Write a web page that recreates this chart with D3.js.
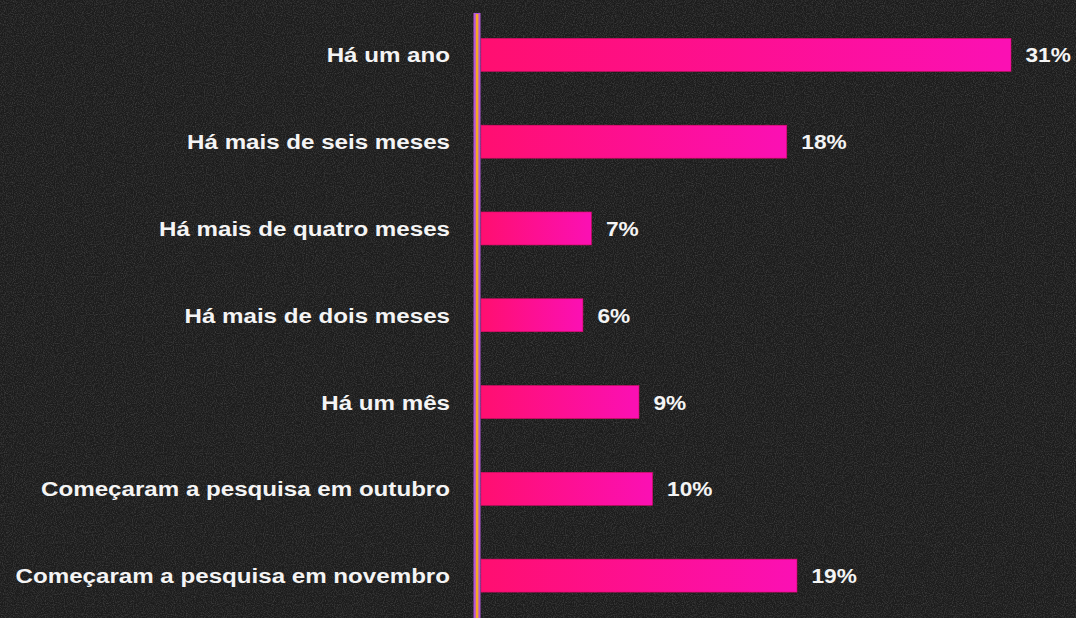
<!DOCTYPE html>
<html>
<head>
<meta charset="utf-8">
<script src="https://cdn.jsdelivr.net/npm/d3@7"></script>
<style>
  body { margin: 0; background: #1c1c1c; }
  svg { display: block; }
  text { font-family: "Liberation Sans", Arial, sans-serif; font-weight: bold; fill: #f4f4f4; }
</style>
</head>
<body>
<div id="root"></div>
<script>
const categories = [
    "Há um ano",
    "Há mais de seis meses",
    "Há mais de quatro meses",
    "Há mais de dois meses",
    "Há um mês",
    "Começaram a pesquisa em outubro",
    "Começaram a pesquisa em novembro"
]
// bar lengths (labels are the rounded figures shown)
const values = [31.2, 18.0, 6.5, 6.0, 9.3, 10.1, 18.6]
const valueLabels = ["31%", "18%", "7%", "6%", "9%", "10%", "19%"]

const w = 1076, h = 618
const axisX = 477

const svg = d3.select("#root").append("svg")
    .attr("width", w)
    .attr("height", h)

const defs = svg.append("defs")

// grainy background
const grain = defs.append("filter").attr("id", "grain")
    .attr("x", 0).attr("y", 0).attr("width", "100%").attr("height", "100%")
grain.append("feTurbulence")
    .attr("type", "fractalNoise")
    .attr("baseFrequency", 0.9)
    .attr("numOctaves", 2)
    .attr("seed", 3)
grain.append("feColorMatrix")
    .attr("type", "matrix")
    .attr("values", "0 0 0 0 1  0 0 0 0 1  0 0 0 0 1  0.9 0 0 0 -0.35")

const grad = defs.append("linearGradient").attr("id", "barGrad")
    .attr("x1", "0%").attr("x2", "100%").attr("y1", "0%").attr("y2", "0%")
grad.append("stop").attr("offset", "0%").attr("stop-color", "#ff0f70")
grad.append("stop").attr("offset", "100%").attr("stop-color", "#fb10b4")

svg.append("rect").attr("width", w).attr("height", h).attr("fill", "#1c1c1c")
svg.append("rect").attr("width", w).attr("height", h).attr("filter", "url(#grain)").attr("opacity", 0.35)

//scales
const x = d3.scaleLinear()
    .domain([0, 31.2])
    .range([481, 1011])

const y = d3.scaleBand()
    .domain(categories)
    .range([11.5, 619])
    .paddingInner(0.62)
    .paddingOuter(0.31)

const rows = categories.map((c, i) => ({ label: c, value: values[i], text: valueLabels[i] }))

// bars
svg.selectAll("rect.bar").data(rows).enter().append("rect")
    .attr("class", "bar")
    .attr("x", x(0))
    .attr("y", d => y(d.label))
    .attr("width", d => x(d.value) - x(0))
    .attr("height", y.bandwidth())
    .attr("fill", "url(#barGrad)")
    .attr("stroke", "#d80a66")
    .attr("stroke-width", 0.6)

// category labels (the original type is set wide)
svg.selectAll("text.label").data(rows).enter().append("text")
    .attr("class", "label")
    .attr("transform", d => `translate(450,${y(d.label) + y.bandwidth() / 2}) scale(1.15,1)`)
    .attr("dy", "0.36em")
    .attr("text-anchor", "end")
    .attr("font-size", 21)
    .text(d => d.label)

// value labels
svg.selectAll("text.value").data(rows).enter().append("text")
    .attr("class", "value")
    .attr("transform", d => `translate(${x(d.value) + 14.5},${y(d.label) + y.bandwidth() / 2}) scale(1.08,1)`)
    .attr("dy", "0.36em")
    .attr("font-size", 21)
    .text(d => d.text)

// axis line
svg.append("rect")
    .attr("x", axisX - 3.5).attr("y", 13)
    .attr("width", 7).attr("height", h)
    .attr("fill", "#b457d8")
svg.append("rect")
    .attr("x", axisX - 1.2).attr("y", 14)
    .attr("width", 2.6).attr("height", h)
    .attr("fill", "#f5a623")
</script>
</body>
</html>
